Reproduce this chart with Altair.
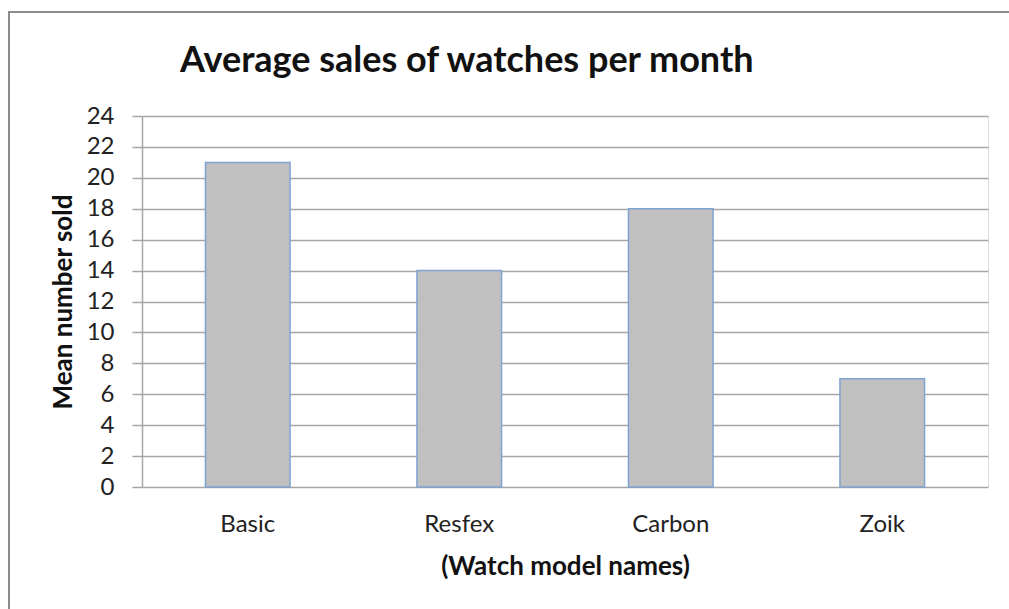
import altair as alt
import pandas as pd

models = ["Basic", "Resfex", "Carbon", "Zoik"]
mean_sold = [21, 14, 18, 7]
y_ticks = list(range(0, 25, 2))
title_text = "Average sales of watches per month"

df = pd.DataFrame({"model": models, "sold": mean_sold})

FONT = "Lato"

bars = alt.Chart(df).mark_bar(
    fill="#C0C0C0", stroke="#7FA3D0", strokeWidth=1.5
).encode(
    x=alt.X("model:N", sort=models,
            scale=alt.Scale(paddingInner=0.6, paddingOuter=0.3),
            axis=alt.Axis(title="(Watch model names)", labelAngle=0,
                          ticks=False, domain=False, grid=False,
                          labelFont=FONT, labelFontSize=24, labelColor="#222",
                          labelPadding=25, titleFont=FONT, titleFontSize=26,
                          titleFontWeight="bold", titleColor="#111",
                          titlePadding=17)),
    y=alt.Y("sold:Q", scale=alt.Scale(domain=[0, 24], nice=False),
            axis=alt.Axis(title="Mean number sold", values=y_ticks,
                          tickSize=10, tickColor="#A6A6A6", tickWidth=1.5,
                          domainColor="#A6A6A6", domainWidth=1.5,
                          gridColor="#A6A6A6", gridWidth=1.5,
                          labelFont=FONT, labelFontSize=24, labelColor="#222",
                          labelPadding=18, titleFont=FONT, titleFontSize=26,
                          titleFontWeight="bold", titleColor="#111",
                          titlePadding=10)),
)

frame = alt.Chart(df).mark_rect(
    fill=None, stroke="#8C8C8C", strokeWidth=2, clip=False
).encode(
    x=alt.value(-133), x2=alt.value(900), y=alt.value(-104), y2=alt.value(520)
)

title = alt.Chart(pd.DataFrame({"t": [title_text]})).mark_text(
    font=FONT, fontSize=36, fontWeight="bold", color="#111",
    align="left", baseline="alphabetic"
).encode(text="t:N", x=alt.value(38), y=alt.value(-44))

chart = alt.layer(frame, bars, title).properties(
    width=846, height=371,
    autosize=alt.AutoSizeParams(type="none"),
    padding={"left": 142, "top": 116, "right": 21, "bottom": 122},
).configure_view(stroke=None).configure(background="white")

chart.save("out.html", embed_options={"renderer": "svg", "actions": False})
